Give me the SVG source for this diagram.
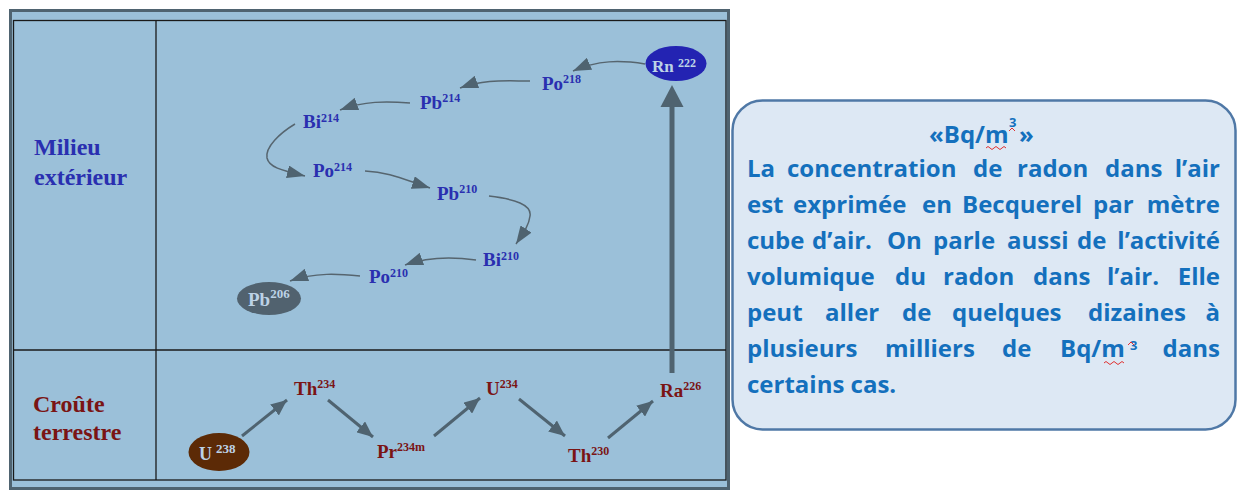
<svg xmlns="http://www.w3.org/2000/svg" width="1239" height="497" viewBox="0 0 1239 497">
<style>
.blue{font-family:"Liberation Serif","Times New Roman",serif;font-weight:bold;fill:#2a2fb0;font-size:19px}
.red{font-family:"Liberation Serif","Times New Roman",serif;font-weight:bold;fill:#7a1414;font-size:19px}
.lab{font-size:24px}
.sup{font-size:12px}
.light{fill:#bcd2e6}
.thin{fill:none;stroke:#56656f;stroke-width:1.5;marker-end:url(#ah)}
.med{fill:none;stroke:#4f6370;stroke-width:3;marker-end:url(#ahb)}
.box{font-family:"Open Sans","Noto Sans",sans-serif;font-weight:bold;font-size:24px;fill:#1470bd}
.small{font-size:13px}
.end{text-anchor:end}
.wavy{fill:none;stroke:#e03030;stroke-width:1}
</style>
<defs>
<marker id="ah" markerUnits="userSpaceOnUse" markerWidth="18" markerHeight="13" refX="18" refY="6.5" orient="auto">
<path d="M0,0 L18,6.5 L0,13 z" fill="#4f6370"/>
</marker>
<marker id="ahb" markerUnits="userSpaceOnUse" markerWidth="16" markerHeight="14" refX="16" refY="7" orient="auto">
<path d="M0,0 L16,7 L0,14 z" fill="#4f6370"/>
</marker>
</defs>
<rect x="0" y="0" width="1239" height="497" fill="#ffffff"/>
<g id="frame">
<rect x="10.5" y="10.5" width="718" height="478" fill="#9bc0d9" stroke="#4f6370" stroke-width="3"/>
<rect x="13.5" y="20.5" width="712.5" height="459.5" fill="none" stroke="#1a1a1a" stroke-width="1.3"/>
<line x1="156" y1="20.5" x2="156" y2="480" stroke="#1a1a1a" stroke-width="1.3"/>
<line x1="13.5" y1="350" x2="726" y2="350" stroke="#1a1a1a" stroke-width="1.3"/>
</g>
<g id="label-milieu">
<text class="blue lab" x="34" y="155">Milieu</text>
<text class="blue lab" x="34" y="185">extérieur</text>
</g>
<g id="label-croute">
<text class="red lab" x="33" y="412">Croûte</text>
<text class="red lab" x="33" y="440">terrestre</text>
</g>
<g id="connectors">
<path class="thin" d="M645,64 C620,60 598,60 573,71"/>
<path class="thin" d="M530,81 C505,81 485,79 460,88"/>
<path class="thin" d="M410,103 C385,101 365,101 340,110"/>
<path class="thin" d="M295,124 C280,133 265,147 267,158 C269,167 280,170 305,176"/>
<path class="thin" d="M365,171 C390,172 405,180 430,188"/>
<path class="thin" d="M489,196 C515,199 532,205 530,216 C529,225 524,232 516,244"/>
<path class="thin" d="M476,260 C455,257 430,256 405,265"/>
<path class="thin" d="M360,276 C340,274 315,272 290,281"/>
<line class="med" x1="242" y1="436" x2="287" y2="400"/>
<line class="med" x1="328" y1="400" x2="373" y2="437"/>
<line class="med" x1="434" y1="436" x2="480" y2="398"/>
<line class="med" x1="519" y1="399" x2="565" y2="436"/>
<line class="med" x1="608" y1="438" x2="653" y2="401"/>
<line x1="672" y1="373" x2="672" y2="105" stroke="#4f6370" stroke-width="5"/>
<polygon points="672,85 660.5,107 683.5,107" fill="#4f6370"/>
</g>
<g id="rn222">
<ellipse cx="676" cy="63.5" rx="30.5" ry="17.5" fill="#2323b2"/>
<text class="blue light" x="652" y="72" style="font-size:17px">Rn</text>
<text class="blue light sup" x="678" y="67">222</text>
</g>
<g id="po218"><text class="blue" x="542" y="90">Po<tspan class="sup" dy="-7">218</tspan></text></g>
<g id="pb214"><text class="blue" x="420" y="109">Pb<tspan class="sup" dy="-7">214</tspan></text></g>
<g id="bi214"><text class="blue" x="303" y="128">Bi<tspan class="sup" dy="-6">214</tspan></text></g>
<g id="po214"><text class="blue" x="313" y="177">Po<tspan class="sup" dy="-6">214</tspan></text></g>
<g id="pb210"><text class="blue" x="437" y="200">Pb<tspan class="sup" dy="-7">210</tspan></text></g>
<g id="bi210"><text class="blue" x="483" y="266">Bi<tspan class="sup" dy="-6">210</tspan></text></g>
<g id="po210"><text class="blue" x="369" y="283">Po<tspan class="sup" dy="-6">210</tspan></text></g>
<g id="pb206">
<ellipse cx="269" cy="298.5" rx="32" ry="16.5" fill="#51626f"/>
<text class="blue light" x="248" y="306">Pb<tspan style="font-size:13px" dy="-8">206</tspan></text>
</g>
<g id="u238">
<ellipse cx="219" cy="452" rx="30.5" ry="19" fill="#5c2a06"/>
<text class="red light" x="199" y="460" style="font-size:18px">U<tspan style="font-size:13px" dx="4" dy="-7">238</tspan></text>
</g>
<g id="th234"><text class="red" x="294" y="395">Th<tspan class="sup" dy="-7">234</tspan></text></g>
<g id="pr234m"><text class="red" x="377" y="458">Pr<tspan class="sup" dy="-7">234m</tspan></text></g>
<g id="u234"><text class="red" x="486" y="395">U<tspan class="sup" dy="-7">234</tspan></text></g>
<g id="th230"><text class="red" x="568" y="462">Th<tspan class="sup" dy="-7">230</tspan></text></g>
<g id="ra226"><text class="red" x="660" y="397">Ra<tspan class="sup" dy="-7">226</tspan></text></g>
<g id="infobox">
<rect x="732.5" y="100.5" width="503" height="329" rx="30" ry="30" fill="#dde8f4" stroke="#4f78a6" stroke-width="2.5"/>
<text class="box" x="929" y="143">«Bq/m</text>
<text class="box small" x="1009" y="127">3</text>
<text class="box" x="1019" y="143">»</text>
<path class="wavy" d="M986,148 q2,-3 4,0 t4,0 t4,0 t4,0 t4,0 M1009,131 l3,-3 l3,3"/>
<text class="box" y="177"><tspan x="747">La</tspan><tspan x="787">concentration</tspan><tspan x="973">de</tspan><tspan x="1017">radon</tspan><tspan x="1105">dans</tspan></text>
<text class="box end" x="1220" y="177">l’air</text>
<text class="box" y="213"><tspan x="747">est</tspan><tspan x="793">exprimée</tspan><tspan x="922">en</tspan><tspan x="962">Becquerel</tspan><tspan x="1093">par</tspan></text>
<text class="box end" x="1220" y="213">mètre</text>
<text class="box" y="249"><tspan x="747">cube</tspan><tspan x="812">d’air.</tspan><tspan x="887">On</tspan><tspan x="933">parle</tspan><tspan x="1007">aussi</tspan><tspan x="1077">de</tspan></text>
<text class="box end" x="1220" y="249">l’activité</text>
<text class="box" y="285"><tspan x="747">volumique</tspan><tspan x="895">du</tspan><tspan x="943">radon</tspan><tspan x="1033">dans</tspan><tspan x="1107">l’air.</tspan></text>
<text class="box end" x="1220" y="285">Elle</text>
<text class="box" y="321"><tspan x="747">peut</tspan><tspan x="825">aller</tspan><tspan x="902">de</tspan><tspan x="952">quelques</tspan><tspan x="1088">dizaines</tspan></text>
<text class="box end" x="1220" y="321">à</text>
<text class="box" y="357"><tspan x="747">plusieurs</tspan><tspan x="885">milliers</tspan><tspan x="1002">de</tspan><tspan x="1060">Bq/m</tspan></text>
<text class="box small" x="1130" y="350">3</text>
<text class="box end" x="1220" y="357">dans</text>
<path class="wavy" d="M1104,363 q2,-3 4,0 t4,0 t4,0 t4,0 t4,0 M1128,345 l3,-3 l3,3"/>
<text class="box" x="747" y="393">certains cas.</text>
</g>
</svg>
